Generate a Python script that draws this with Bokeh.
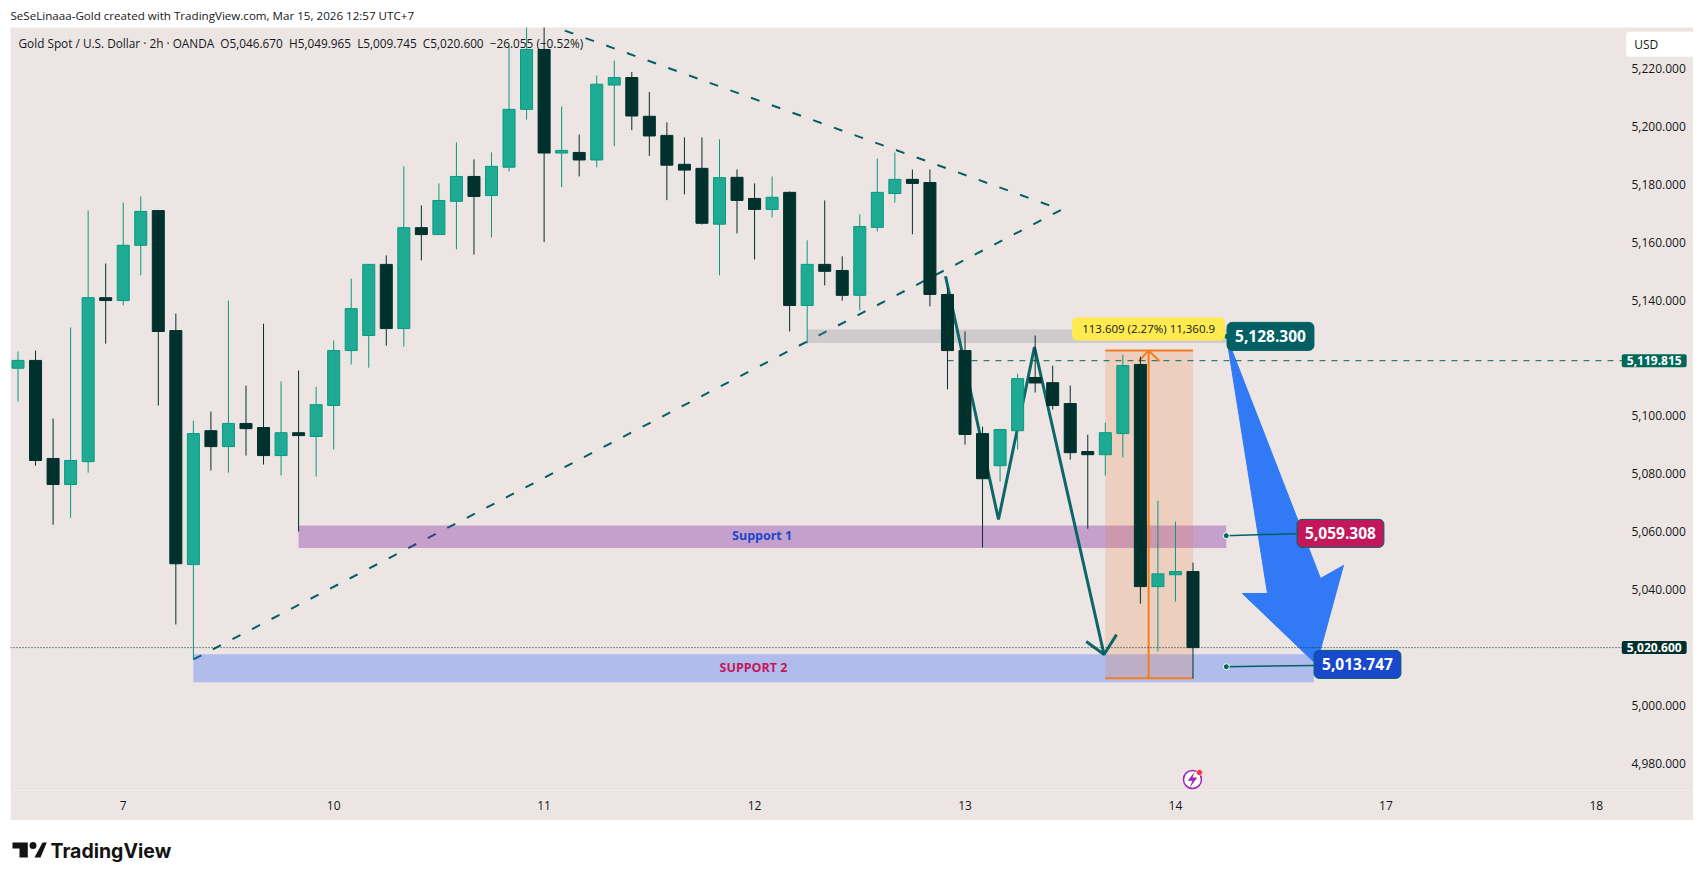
"""
XAU/USD 2h chart with drawings, redrawn in Bokeh.
"""
from bokeh.core.properties import value
from bokeh.embed import file_html
from bokeh.layouts import column
from bokeh.models import ColumnDataSource, FixedTicker, Label, LinearAxis, NumeralTickFormatter, Range1d
from bokeh.plotting import figure
from bokeh.resources import INLINE

# candles, one entry per 2h bar
opens = [5116.5, 5119.2, 5085.3, 5076.3, 5084.2, 5140.9, 5139.9, 5159.0, 5171.0, 5129.5,
         5048.6, 5094.9, 5089.4, 5097.4, 5096.0, 5086.3, 5094.2, 5092.9, 5103.6, 5122.6,
         5127.8, 5152.4, 5130.2, 5165.1, 5162.7, 5174.2, 5182.8, 5176.2, 5186.0, 5206.0,
         5226.7, 5190.9, 5191.1, 5188.5, 5214.4, 5217.0, 5203.6, 5197.0, 5187.0, 5185.6,
         5166.3, 5182.5, 5175.2, 5171.4, 5177.3, 5138.2, 5152.4, 5150.3, 5141.7, 5165.2,
         5176.9, 5181.8, 5180.7, 5142.0, 5122.6, 5093.9, 5082.8, 5094.9, 5113.3, 5111.5,
         5104.3, 5087.7, 5086.6, 5093.9, 5117.8, 5041.0, 5045.1, 5046.2]
highs = [5122.3, 5122.6, 5099.1, 5130.6, 5171.0, 5152.7, 5173.8, 5175.9, 5171.0, 5135.4,
         5098.4, 5101.5, 5139.9, 5110.5, 5131.9, 5111.9, 5115.7, 5110.1, 5126.1, 5147.5,
         5152.4, 5155.5, 5186.3, 5172.8, 5180.4, 5194.6, 5188.7, 5191.1, 5228.1, 5238.0,
         5238.0, 5207.0, 5197.3, 5217.7, 5222.9, 5218.9, 5212.0, 5201.5, 5196.3, 5196.3,
         5195.6, 5185.2, 5180.4, 5182.8, 5177.6, 5160.7, 5174.5, 5155.2, 5169.7, 5189.0,
         5191.1, 5185.2, 5185.2, 5144.4, 5129.2, 5096.3, 5095.6, 5114.6, 5127.8, 5117.4,
         5110.5, 5093.5, 5097.7, 5121.2, 5120.5, 5070.7, 5063.5, 5049.3]
lows = [5105.0, 5082.8, 5062.4, 5064.8, 5080.4, 5125.0, 5138.2, 5148.6, 5103.6, 5027.9,
        5015.8, 5081.1, 5080.4, 5086.3, 5083.2, 5079.4, 5060.0, 5079.0, 5088.4, 5117.8,
        5116.7, 5124.3, 5124.0, 5153.8, 5162.7, 5157.6, 5155.8, 5161.7, 5184.5, 5202.5,
        5160.1, 5179.1, 5182.8, 5186.0, 5193.3, 5198.8, 5189.9, 5174.6, 5176.6, 5166.2,
        5148.6, 5163.1, 5154.1, 5168.6, 5129.2, 5125.1, 5145.1, 5139.9, 5136.5, 5163.8,
        5173.8, 5162.8, 5137.9, 5109.2, 5090.1, 5054.5, 5077.3, 5088.4, 5108.1, 5102.2,
        5084.9, 5061.0, 5079.4, 5085.6, 5035.1, 5018.6, 5035.8, 5009.2]
closes = [5119.2, 5084.6, 5076.3, 5084.6, 5140.9, 5139.9, 5159.0, 5170.7, 5129.2, 5048.9,
          5093.9, 5089.4, 5097.4, 5095.6, 5086.3, 5094.2, 5093.2, 5103.9, 5122.6, 5137.1,
          5152.4, 5130.2, 5165.1, 5162.7, 5174.5, 5182.8, 5175.9, 5186.3, 5206.0, 5226.7,
          5190.9, 5191.8, 5188.5, 5214.7, 5217.0, 5203.7, 5196.8, 5186.7, 5185.0, 5166.6,
          5182.4, 5174.5, 5171.4, 5175.6, 5138.2, 5152.4, 5150.0, 5141.7, 5165.5, 5177.3,
          5181.8, 5180.4, 5142.0, 5122.6, 5093.6, 5078.3, 5095.3, 5112.9, 5111.4, 5103.6,
          5087.3, 5086.6, 5094.2, 5117.4, 5041.0, 5045.4, 5046.2, 5019.9]

# axes (5,020 and 5,120 sit behind the live price tags, so they have no label)
price_ticks = [4980, 5000, 5040, 5060, 5080, 5100, 5140, 5160, 5180, 5200, 5220]
day_ticks = [6, 18, 30, 42, 54, 66, 78, 90]
day_labels = ["7", "10", "11", "12", "13", "14", "17", "18"]

# drawings, in bar index / price
upper_trend_x = [30.0, 59.5]
upper_trend_y = [5235.8, 5171.3]
lower_trend_x = [10.0, 59.5]
lower_trend_y = [5015.8, 5171.3]
path_x = [52.89, 55.91, 57.96, 61.93]
path_y = [5148.3, 5064.2, 5123.8, 5017.5]
path_head_x = [60.91, 61.93, 62.64]
path_head_y = [5022.0, 5017.5, 5024.4]
big_arrow_x = [68.91, 74.27, 75.58, 74.04, 69.82, 71.25]
big_arrow_y = [5127.5, 5043.8, 5048.3, 5014.1, 5038.6, 5038.6]

resistance_zone = (45.0, 68.9, 5125.2, 5129.9)
support1_zone = (16.0, 68.9, 5054.3, 5062.1)
support2_zone = (10.0, 73.9, 5007.9, 5017.6)
range_box = (62.0, 67.0, 5009.3, 5122.6)
range_mid = 64.47
range_head_x = [63.9, 64.47, 65.1]
range_head_y = [5118.9, 5122.6, 5118.9]

# levels
last_level = 5019.9
prev_level = 5119.1
prev_level_start = 53
scale_edge = 91.5  # where the price scale starts

BG = "#EDE5E3"
UP_FILL = "#1FAB93"
UP_LINE = "#089981"
DOWN = "#01312D"
TEAL = "#006064"
TEXT = "#131722"

W = 1683
H = 793
FONT = "Open Sans"
SP = "\u00a0\u00a0"

is_up = [c >= o for o, c in zip(opens, closes)]
bars = list(range(len(opens)))


def pick(values, up):
    return [v for v, u in zip(values, is_up) if u == up]


# the frame runs under the price scale: labels in a side panel would get clipped tags
p = figure(width=W, height=H, output_backend="svg", toolbar_location=None,
           x_range=Range1d(-0.428, 95.54), y_range=Range1d(4970.5, 5234.3),
           x_axis_type=None, y_axis_type=None, min_border_left=0, min_border_top=0,
           min_border_right=0, min_border_bottom=30, background_fill_color=BG,
           border_fill_color=BG, outline_line_color=None, margin=(0, 0, 0, 2))
p.grid.visible = False

y_axis = LinearAxis(ticker=FixedTicker(ticks=price_ticks), formatter=NumeralTickFormatter(format="0,0.000"))
x_axis = LinearAxis(ticker=FixedTicker(ticks=day_ticks),
                    major_label_overrides=dict(zip(day_ticks, day_labels)))
for ax in (y_axis, x_axis):
    ax.axis_line_color = None
    ax.major_tick_line_color = None
    ax.minor_tick_line_color = None
    ax.major_tick_out = 0
    ax.major_label_text_font = FONT
    ax.major_label_text_font_size = "12px"
    ax.major_label_text_color = TEXT
y_axis.major_label_standoff = -62
x_axis.major_label_standoff = 10
p.add_layout(y_axis, "right")
p.add_layout(x_axis, "below")

# trend lines sit under the zones, the zones tint them
p.line(upper_trend_x, upper_trend_y, line_color=TEAL, line_width=2, line_dash="9 13")
p.line(lower_trend_x, lower_trend_y, line_color=TEAL, line_width=2, line_dash="9 13")

for zone, color, alpha in [(resistance_zone, "#787B86", 0.25),
                           (support1_zone, "#7B1FA2", 0.35),
                           (support2_zone, "#2962FF", 0.31)]:
    p.quad(left=zone[0], right=zone[1], bottom=zone[2], top=zone[3],
           fill_color=color, fill_alpha=alpha, line_color=None)

# measured range
p.quad(left=range_box[0], right=range_box[1], bottom=range_box[2], top=range_box[3],
       fill_color="#EE7A32", fill_alpha=0.2, line_color=None)
p.line(range_box[:2], [range_box[3], range_box[3]], line_color="#F57C1F", line_width=2)
p.line(range_box[:2], [range_box[2], range_box[2]], line_color="#F57C1F", line_width=2)
p.line([range_mid, range_mid], range_box[2:], line_color="#F57C1F", line_width=2)
p.line(range_head_x, range_head_y, line_color="#F57C1F", line_width=2)

# zig-zag path and big arrow
p.line(path_x, path_y, line_color=TEAL, line_width=3, line_alpha=0.95)
p.line(path_head_x, path_head_y, line_color=TEAL, line_width=3, line_alpha=0.95)
p.patch(big_arrow_x, big_arrow_y, fill_color="#3179F5", line_color="#3179F5", line_width=1)

# previous price line
p.line([prev_level_start, scale_edge], [prev_level, prev_level], line_color="#006858", line_width=1, line_dash="6 6")

# candles on top of the drawings
for up, fill, line, wick in [(True, UP_FILL, UP_LINE, UP_LINE), (False, DOWN, DOWN, DOWN)]:
    src = ColumnDataSource(dict(x=pick(bars, up), o=pick(opens, up), h=pick(highs, up),
                                l=pick(lows, up), c=pick(closes, up)))
    p.segment("x", "h", "x", "l", source=src, line_color=wick, line_width=1)
    p.vbar("x", 0.685, "o", "c", source=src, fill_color=fill, line_color=line, line_width=1)

# last price dotted line, over the candles
p.line([-0.428, scale_edge], [last_level, last_level], line_color=DOWN, line_width=1, line_dash="1 2")

# leaders from the zones to the price tags
p.line([68.9, 72.9], [5058.6, 5059.308], line_color=TEAL, line_width=1.5)
p.line([68.9, 73.9], [5013.3, 5013.747], line_color=TEAL, line_width=1.5)
p.scatter([68.9, 68.9, 68.9], [5127.5, 5058.6, 5013.3], size=6, fill_color="#006858",
          line_color="white", line_width=1)

# alert icon
p.scatter([66.97], [4974.3], size=18, fill_color="white", line_color="#9C27B0", line_width=1.5)
p.patch([67.1, 66.7, 66.97, 66.8, 67.25, 66.97], [4977.0, 4973.9, 4973.9, 4971.4, 4975.0, 4975.0],
        fill_color="#9C27B0", line_color=None)
p.scatter([67.37], [4976.7], size=6, fill_color="#F23645", line_color="white", line_width=0.5)


def tag(x, y, text, fill, size="15.5px", color="white", border=TEAL, style="bold", pad=(8, 8), radius=5,
        align="center"):
    p.add_layout(Label(x=x, y=y, text=text, text_color=color, text_font=FONT,
                       text_font_size=size, text_font_style=style, text_align=align,
                       text_baseline="middle", background_fill_color=fill, border_line_color=border,
                       border_radius=radius, padding=pad))


tag(71.42, 5127.5, "5,128.300", TEAL)
tag(75.41, 5059.4, "5,059.308", "#C2185B")
tag(76.38, 5014.1, "5,013.747", "#1848CC")
tag(64.47, 5130.1, "113.609 (2.27%) 11,360.9", "#FFEB4F", size="11.5px", color=TEXT, border=None,
    style="normal", pad=(10, 4))

# plain chart texts
p.add_layout(Label(x=42.43, y=5058.8, text="Support 1", text_color="#1848CC", text_font=FONT,
                   text_font_size="12.5px", text_font_style="bold", text_align="center", text_baseline="middle"))
p.add_layout(Label(x=41.94, y=5013.05, text="SUPPORT 2", text_color="#C2185B", text_font=FONT,
                   text_font_size="12.5px", text_font_style="bold", text_align="center", text_baseline="middle"))
p.add_layout(Label(x=8, y=5229.0, x_units="screen",
                   text=f"Gold Spot / U.S. Dollar \u00b7 2h \u00b7 OANDA{SP}O5,046.670{SP}H5,049.965{SP}L5,009.745{SP}C5,020.600{SP}\u221226.055 (\u22120.52%)",
                   text_color=TEXT, text_font=FONT, text_font_size="11.8px", text_baseline="middle"))

# price scale tags
tag(93.3, prev_level, "5,119.815", "#006858", size="12px", border=None, pad=(5, 2), radius=2)
tag(93.3, last_level, "5,020.600", DOWN, size="12px", border=None, pad=(5, 2), radius=2)
tag(91.7, 5228.5, "USD", "white", size="12px", color=TEXT, border=None, style="normal", pad=(8, 37, 4, 4),
    radius=4, align="left")

# header and footer strips
header = figure(width=1685, height=19, output_backend="svg", toolbar_location=None,
                x_range=Range1d(0, 1685), y_range=Range1d(19, 0), x_axis_type=None, y_axis_type=None,
                min_border=0, outline_line_color=None)
header.grid.visible = False
header.text([2], [7], text=["SeSeLinaaa-Gold created with TradingView.com, Mar 15, 2026 12:57 UTC+7"],
            text_font=value(FONT), text_font_size="11.6px", text_color=TEXT, text_baseline="middle")

footer = figure(width=1685, height=52, output_backend="svg", toolbar_location=None,
                x_range=Range1d(0, 1685), y_range=Range1d(52, 0), x_axis_type=None, y_axis_type=None,
                min_border=0, outline_line_color=None)
footer.grid.visible = False
footer.patches([[4, 19.3, 19.3, 11, 11, 4], [34, 38.3, 32, 26]],
               [[22, 22, 37, 37, 28, 28], [22, 22, 37, 37]], fill_color="#131313", line_color=None)
footer.scatter([24.5], [25], size=7, fill_color="#131313", line_color=None)
footer.text([42], [30], text=["TradingView"], text_font=value("Inter"), text_font_size="19.5px",
            text_font_style=value("bold"), text_color="#131313", text_baseline="middle")

layout = column(header, p, footer, spacing=0, margin=(8, 0, 0, 8))
open("out.html", "w").write(file_html(layout, INLINE))
